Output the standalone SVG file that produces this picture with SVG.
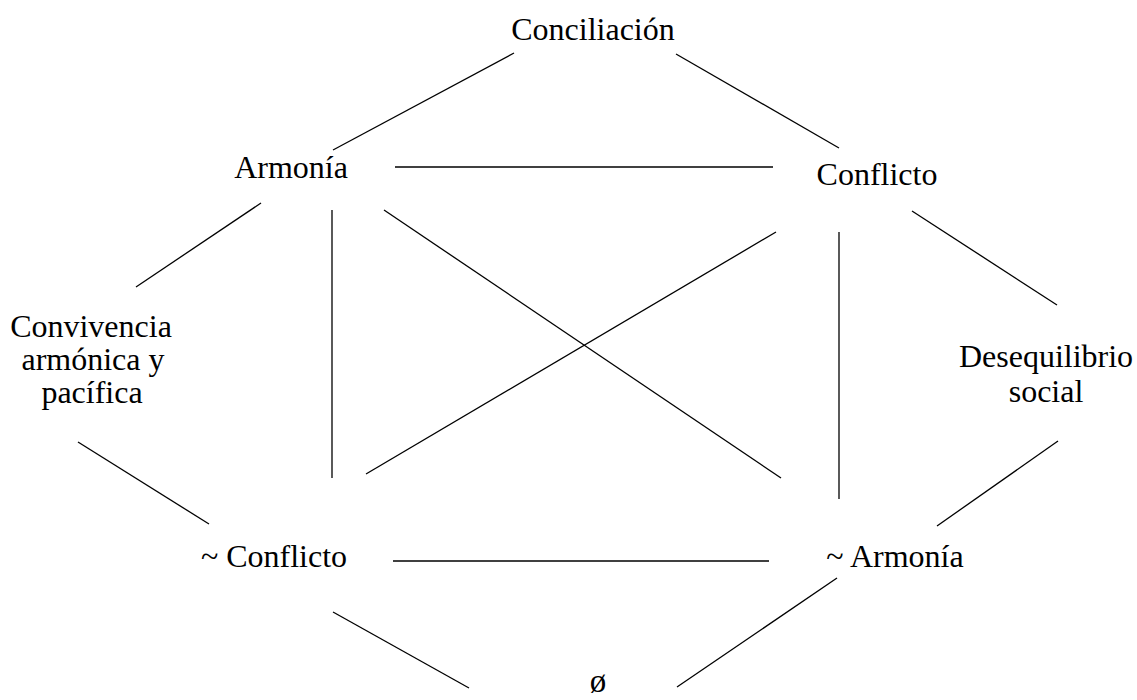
<svg xmlns="http://www.w3.org/2000/svg" width="1137" height="700" viewBox="0 0 1137 700">
<style>
text{font-family:"Liberation Serif","Times New Roman",serif;font-size:32px;fill:#000;text-anchor:middle}
.c line{stroke:#000;stroke-width:1.3;fill:none}
</style>
<rect width="1137" height="700" fill="#fff"/>
<g id="connectors" class="c">
<line x1="333" y1="150" x2="514" y2="53"/>
<line x1="676" y1="54" x2="839" y2="148"/>
<line x1="261" y1="203" x2="136" y2="287"/>
<line x1="332" y1="210" x2="332" y2="478"/>
<line x1="384" y1="210" x2="781" y2="478"/>
<line x1="776" y1="232" x2="366" y2="474"/>
<line x1="839" y1="232" x2="839" y2="499"/>
<line x1="912" y1="211" x2="1057" y2="305"/>
<line x1="78" y1="442" x2="209" y2="524"/>
<line x1="1058" y1="441" x2="937" y2="526"/>
<line x1="395" y1="167" x2="773" y2="167"/>
<line x1="393" y1="561" x2="769" y2="561"/>
<line x1="333" y1="612" x2="469" y2="688"/>
<line x1="837" y1="578" x2="677" y2="687"/>
</g>
<g id="conciliacion"><text x="593" y="40">Conciliación</text></g>
<g id="armonia"><text x="291" y="178">Armonía</text></g>
<g id="conflicto"><text x="877" y="185">Conflicto</text></g>
<g id="convivencia"><text x="91" y="337">Convivencia</text><text x="93" y="370">armónica y</text><text x="92" y="403">pacífica</text></g>
<g id="desequilibrio"><text x="1046" y="367">Desequilibrio</text><text x="1046" y="402">social</text></g>
<g id="no-conflicto"><text x="274" y="567">~ Conflicto</text></g>
<g id="no-armonia"><text x="895" y="567">~ Armonía</text></g>
<g id="vacio"><text x="598" y="692" style="font-size:33px">ø</text></g>
</svg>
